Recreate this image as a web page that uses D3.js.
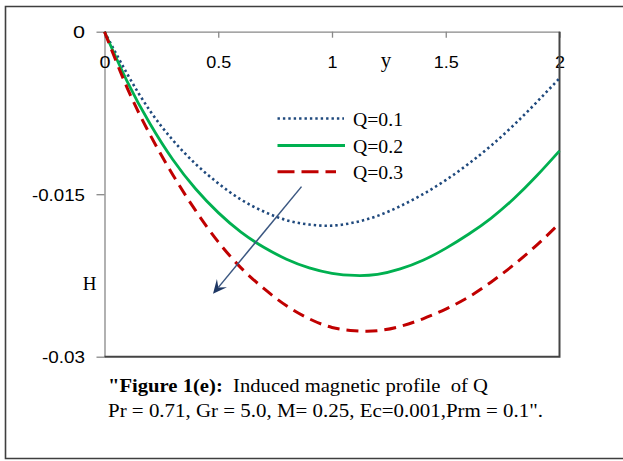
<!DOCTYPE html>
<html>
<head>
<meta charset="utf-8">
<script src="https://cdn.jsdelivr.net/npm/d3@7"></script>
<style>
  html, body { margin: 0; padding: 0; background: #fff; }
  svg { display: block; }
</style>
</head>
<body>
<svg id="chart" width="623" height="461"></svg>
<script>
// Induced magnetic profile H(y) for three values of Q
const yValues = [0, 0.1, 0.2, 0.3, 0.4, 0.5, 0.6, 0.7, 0.8, 0.9, 1.0,
                 1.1, 1.2, 1.3, 1.4, 1.5, 1.6, 1.7, 1.8, 1.9, 2.0];
const hQ01 = [0, -0.0039, -0.0073, -0.0100, -0.0122, -0.0140, -0.0155, -0.0166, -0.0174, -0.0178, -0.0179,
              -0.0176, -0.0170, -0.0161, -0.0150, -0.0137, -0.0122, -0.0105, -0.0086, -0.0065, -0.0043];
const hQ02 = [0, -0.0046, -0.0085, -0.0118, -0.0145, -0.0167, -0.0185, -0.0199, -0.0210, -0.0218, -0.0223,
              -0.0225, -0.0224, -0.0219, -0.0211, -0.0200, -0.0187, -0.0172, -0.0154, -0.0133, -0.0110];
const hQ03 = [0, -0.0052, -0.0095, -0.0132, -0.0165, -0.0194, -0.0218, -0.0237, -0.0253, -0.0265, -0.0273,
              -0.0276, -0.0276, -0.0272, -0.0265, -0.0256, -0.0245, -0.0231, -0.0215, -0.0197, -0.0177];
const seriesNames = ["Q=0.1", "Q=0.2", "Q=0.3"];
const xTicks = [0, 0.5, 1, 1.5, 2];
const xTickLabels = ["0", "0.5", "1", "1.5", "2"];
const yTicks = [0, -0.015, -0.03];
const yTickLabels = ["0", "-0.015", "-0.03"];
// direction of increasing Q: arrow from (y, H) to (y, H)
const arrowFrom = [0.866, -0.0143];
const arrowTo = [0.477, -0.0242];
const captionBold = "\"Figure 1(e):";
const captionRest = "  Induced magnetic profile  of Q";
const captionLine2 = "Pr = 0.71, Gr = 5.0, M= 0.25, Ec=0.001,Prm = 0.1\".";

const svg = d3.select("#chart");
const plotLeft = 104.5, plotRight = 559.5, plotTop = 31.7, plotBottom = 356.7;

const x = d3.scaleLinear().domain([0, 2]).range([plotLeft, plotRight]);
const y = d3.scaleLinear().domain([0, -0.03]).range([plotTop, plotBottom]);

// outer frame (right edge runs past the canvas)
svg.append("path")
  .attr("d", "M640,6.5 H5.5 V458.5 H640")
  .attr("fill", "none").attr("stroke", "#3f3f3f").attr("stroke-width", 1.6);

const sans = "'Liberation Sans', Arial, sans-serif";
const serif = "'Liberation Serif', 'Times New Roman', serif";

// y axis on the left
const yAxis = svg.append("g")
  .attr("transform", `translate(${plotLeft},0)`)
  .call(d3.axisLeft(y).tickValues(yTicks)
    .tickFormat((d, i) => yTickLabels[i])
    .tickSizeInner(8).tickSizeOuter(0).tickPadding(11.5));
yAxis.select(".domain").attr("stroke", "#888").attr("stroke-width", 1.3);
yAxis.selectAll(".tick line").attr("stroke", "#888").attr("stroke-width", 1.3);
const yLabelWidths = [12, 53, 43];
yAxis.selectAll(".tick text")
  .attr("font-family", sans).attr("font-size", 16).attr("fill", "#000")
  .attr("dy", "0.38em")
  .attr("textLength", (d, i) => yLabelWidths[i])
  .attr("lengthAdjust", "spacingAndGlyphs");

// x axis along H = 0 at the top, ticks pointing into the plot
const xAxis = svg.append("g")
  .attr("transform", `translate(0,${plotTop})`)
  .call(d3.axisBottom(x).tickValues(xTicks)
    .tickFormat((d, i) => xTickLabels[i])
    .tickSizeInner(6).tickSizeOuter(0).tickPadding(19));
xAxis.select(".domain").attr("stroke", "#888").attr("stroke-width", 1.3);
xAxis.selectAll(".tick line").attr("stroke", "#888").attr("stroke-width", 1.3);
const xLabelWidths = [11, 25, 10, 25, 10];
xAxis.selectAll(".tick text")
  .attr("font-family", sans).attr("font-size", 16).attr("fill", "#000")
  .attr("textLength", (d, i) => xLabelWidths[i])
  .attr("lengthAdjust", "spacingAndGlyphs");

// plot-area border on the right and bottom
svg.append("path")
  .attr("d", `M${plotRight},${plotTop} V${plotBottom} H${plotLeft}`)
  .attr("fill", "none").attr("stroke", "#444").attr("stroke-width", 2);

// axis titles
svg.append("text").attr("x", 386).attr("y", 67)
  .attr("text-anchor", "middle").attr("font-family", serif).attr("font-size", 21)
  .text("y");
svg.append("text").attr("x", 89.5).attr("y", 290)
  .attr("text-anchor", "middle").attr("font-family", serif).attr("font-size", 19)
  .text("H");

// curves
const styles = [
  { color: "#1F497D", width: 2.6, dash: "2.4,3" },
  { color: "#00B050", width: 2.8, dash: null },
  { color: "#C00000", width: 3, dash: "12,7" }
];
const allSeries = [hQ01, hQ02, hQ03];
const line = d3.line()
  .x((d, i) => x(yValues[i]))
  .y(d => y(d))
  .curve(d3.curveNatural);

allSeries.forEach((s, k) => {
  svg.append("path")
    .datum(s)
    .attr("d", line)
    .attr("fill", "none")
    .attr("stroke", styles[k].color)
    .attr("stroke-width", styles[k].width)
    .attr("stroke-dasharray", styles[k].dash);
});

// legend
const legendY = [118.5, 145.5, 171.8];
const legendEnd = [344, 345, 336];
seriesNames.forEach((name, k) => {
  svg.append("line")
    .attr("x1", 277.5).attr("x2", legendEnd[k])
    .attr("y1", legendY[k]).attr("y2", legendY[k])
    .attr("stroke", styles[k].color)
    .attr("stroke-width", styles[k].width)
    .attr("stroke-dasharray", k === 2 ? "17,7" : styles[k].dash);
  svg.append("text")
    .attr("x", 353).attr("y", legendY[k] + 7.5)
    .attr("font-family", serif).attr("font-size", 19)
    .attr("textLength", 50).attr("lengthAdjust", "spacingAndGlyphs")
    .text(name);
});

// arrow showing the trend with increasing Q
const ax0 = x(arrowFrom[0]), ay0 = y(arrowFrom[1]);
const ax1 = x(arrowTo[0]), ay1 = y(arrowTo[1]);
const ang = Math.atan2(ay1 - ay0, ax1 - ax0);
const hl = 14, hw = 6.5;
const bx = ax1 - hl * Math.cos(ang), by = ay1 - hl * Math.sin(ang);
const nx = -Math.sin(ang), ny = Math.cos(ang);
svg.append("line")
  .attr("x1", ax0).attr("y1", ay0)
  .attr("x2", ax1 - 0.6 * hl * Math.cos(ang)).attr("y2", ay1 - 0.6 * hl * Math.sin(ang))
  .attr("stroke", "#3B5781").attr("stroke-width", 1.5);
svg.append("path")
  .attr("d", `M${ax1},${ay1} L${bx + nx * hw},${by + ny * hw} L${ax1 - 0.6 * hl * Math.cos(ang)},${ay1 - 0.6 * hl * Math.sin(ang)} L${bx - nx * hw},${by - ny * hw} Z`)
  .attr("fill", "#1F3864");

// caption
const cap1 = svg.append("text")
  .attr("x", 108).attr("y", 391.5)
  .attr("font-family", serif).attr("font-size", 18.5)
  .attr("textLength", 380).attr("lengthAdjust", "spacingAndGlyphs")
  .attr("xml:space", "preserve");
cap1.append("tspan").attr("font-weight", "bold").text(captionBold);
cap1.append("tspan").text(captionRest);
svg.append("text")
  .attr("x", 108).attr("y", 416.5)
  .attr("font-family", serif).attr("font-size", 18.5)
  .attr("textLength", 435).attr("lengthAdjust", "spacingAndGlyphs")
  .text(captionLine2);
</script>
</body>
</html>
